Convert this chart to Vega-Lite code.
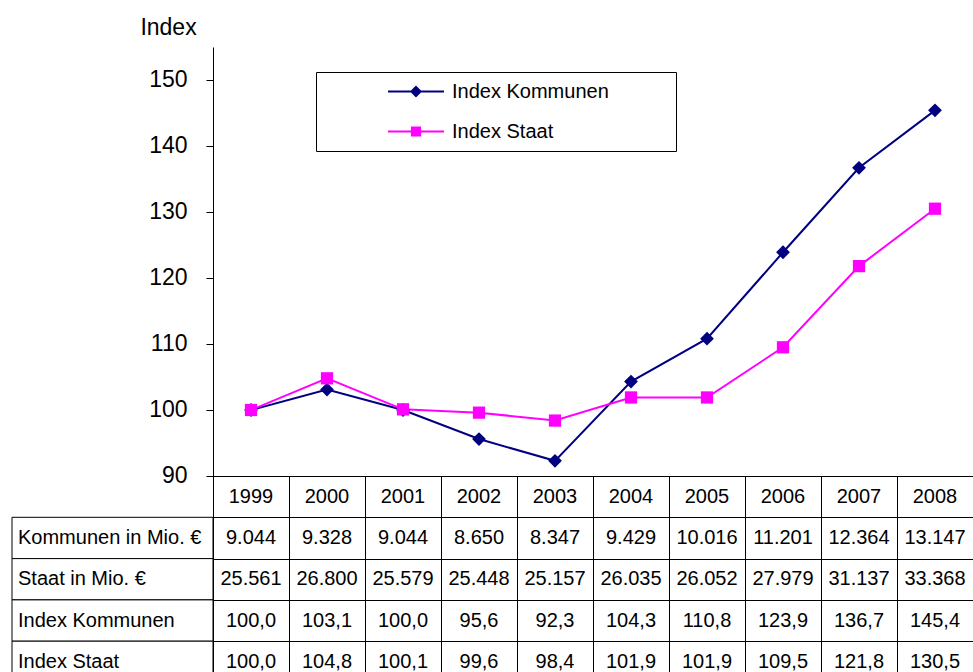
{
  "$schema": "https://vega.github.io/schema/vega-lite/v6.json",
  "width": 760,
  "height": 625,
  "autosize": {"type": "none"},
  "padding": {"left": 213, "top": 47, "right": 0, "bottom": 0},
  "background": "white",
  "config": {
    "font": "Liberation Sans",
    "view": {"stroke": null},
    "locale": {"number": {"decimal": ",", "thousands": ".", "grouping": [3], "currency": ["", " €"]}}
  },
  "data": {"values": [
    {"jahr": 1999, "zeile": "Kommunen in Mio. €", "wert": 9044},
    {"jahr": 1999, "zeile": "Staat in Mio. €", "wert": 25561},
    {"jahr": 1999, "zeile": "Index Kommunen", "wert": 100.0},
    {"jahr": 1999, "zeile": "Index Staat", "wert": 100.0},
    {"jahr": 2000, "zeile": "Kommunen in Mio. €", "wert": 9328},
    {"jahr": 2000, "zeile": "Staat in Mio. €", "wert": 26800},
    {"jahr": 2000, "zeile": "Index Kommunen", "wert": 103.1},
    {"jahr": 2000, "zeile": "Index Staat", "wert": 104.8},
    {"jahr": 2001, "zeile": "Kommunen in Mio. €", "wert": 9044},
    {"jahr": 2001, "zeile": "Staat in Mio. €", "wert": 25579},
    {"jahr": 2001, "zeile": "Index Kommunen", "wert": 100.0},
    {"jahr": 2001, "zeile": "Index Staat", "wert": 100.1},
    {"jahr": 2002, "zeile": "Kommunen in Mio. €", "wert": 8650},
    {"jahr": 2002, "zeile": "Staat in Mio. €", "wert": 25448},
    {"jahr": 2002, "zeile": "Index Kommunen", "wert": 95.6},
    {"jahr": 2002, "zeile": "Index Staat", "wert": 99.6},
    {"jahr": 2003, "zeile": "Kommunen in Mio. €", "wert": 8347},
    {"jahr": 2003, "zeile": "Staat in Mio. €", "wert": 25157},
    {"jahr": 2003, "zeile": "Index Kommunen", "wert": 92.3},
    {"jahr": 2003, "zeile": "Index Staat", "wert": 98.4},
    {"jahr": 2004, "zeile": "Kommunen in Mio. €", "wert": 9429},
    {"jahr": 2004, "zeile": "Staat in Mio. €", "wert": 26035},
    {"jahr": 2004, "zeile": "Index Kommunen", "wert": 104.3},
    {"jahr": 2004, "zeile": "Index Staat", "wert": 101.9},
    {"jahr": 2005, "zeile": "Kommunen in Mio. €", "wert": 10016},
    {"jahr": 2005, "zeile": "Staat in Mio. €", "wert": 26052},
    {"jahr": 2005, "zeile": "Index Kommunen", "wert": 110.8},
    {"jahr": 2005, "zeile": "Index Staat", "wert": 101.9},
    {"jahr": 2006, "zeile": "Kommunen in Mio. €", "wert": 11201},
    {"jahr": 2006, "zeile": "Staat in Mio. €", "wert": 27979},
    {"jahr": 2006, "zeile": "Index Kommunen", "wert": 123.9},
    {"jahr": 2006, "zeile": "Index Staat", "wert": 109.5},
    {"jahr": 2007, "zeile": "Kommunen in Mio. €", "wert": 12364},
    {"jahr": 2007, "zeile": "Staat in Mio. €", "wert": 31137},
    {"jahr": 2007, "zeile": "Index Kommunen", "wert": 136.7},
    {"jahr": 2007, "zeile": "Index Staat", "wert": 121.8},
    {"jahr": 2008, "zeile": "Kommunen in Mio. €", "wert": 13147},
    {"jahr": 2008, "zeile": "Staat in Mio. €", "wert": 33368},
    {"jahr": 2008, "zeile": "Index Kommunen", "wert": 145.4},
    {"jahr": 2008, "zeile": "Index Staat", "wert": 130.5}
  ]},
  "resolve": {"scale": {"y": "independent"}},
  "layer": [
    {
      "layer": [
        {
          "mark": {"type": "rect", "fill": "white", "stroke": null},
          "encoding": {
            "x": {"datum": 1998.5, "type": "quantitative",
              "scale": {"domain": [1998.5, 2008.5], "nice": false, "zero": false},
              "axis": {"values": [1998.5, 1999.5, 2000.5, 2001.5, 2002.5, 2003.5, 2004.5, 2005.5, 2006.5, 2007.5, 2008.5],
                "grid": true, "gridColor": "black", "gridOpacity": 1, "gridWidth": 1,
                "labels": false, "ticks": false, "domain": false, "title": null, "zindex": 0}},
            "x2": {"datum": 2008.5},
            "y": {"datum": 155, "type": "quantitative",
              "scale": {"domain": [60.303, 155], "nice": false, "zero": false}},
            "y2": {"datum": 90}
          }
        },
        {
          "transform": [{"filter": "indexof(datum.zeile, 'Index') === 0"}],
          "mark": {"type": "line", "strokeWidth": 2},
          "encoding": {
            "x": {"field": "jahr", "type": "quantitative",
              "scale": {"domain": [1998.5, 2008.5], "nice": false, "zero": false}},
            "y": {"field": "wert", "type": "quantitative",
              "scale": {"domain": [60.303, 155], "nice": false, "zero": false},
              "axis": {"values": [90, 100, 110, 120, 130, 140, 150], "grid": false,
                "domainColor": "black", "tickColor": "black", "tickSize": 7,
                "labelFontSize": 23, "labelColor": "black", "labelPadding": 19,
                "title": "Index", "titleAngle": 0, "titleAlign": "center", "titleBaseline": "alphabetic",
                "titleX": -45, "titleY": -13, "titleFontSize": 23, "titleFontWeight": "normal", "titleColor": "black",
                "zindex": 1}},
            "color": {"field": "zeile", "type": "nominal",
              "scale": {"domain": ["Index Kommunen", "Index Staat"], "range": ["#000080", "#FF00FF"]},
              "legend": {
                "orient": "none", "legendX": 103, "legendY": 25, "title": null, "direction": "vertical",
                "strokeColor": "black", "fillColor": "white", "padding": 0,
                "labelFontSize": 20, "labelColor": "black", "labelOffset": 16.5, "labelLimit": 400,
                "symbolSize": 1369, "symbolOffset": 80.5, "symbolStrokeWidth": 2, "rowPadding": 1,
                "labelExpr": "datum.label + '\u00a0\u00a0\u00a0\u00a0\u00a0\u00a0\u00a0\u00a0\u00a0\u00a0\u00a0\u00a0\u200b'",
                "encode": {"symbols": {"update": {
                  "shape": {"signal": "datum.value === 'Index Kommunen' ? 'M-1.514,0H1.514M0,-0.25L0.25,0L0,0.25L-0.25,0ZM0,0.784L0,0.784' : 'M-1.514,0H1.514M-0.22,-0.22H0.22V0.22H-0.22ZM0,0.784L0,0.784'"},
                  "fill": {"signal": "datum.value === 'Index Kommunen' ? '#000080' : '#FF00FF'"},
                  "stroke": {"signal": "datum.value === 'Index Kommunen' ? '#000080' : '#FF00FF'"},
                  "strokeWidth": {"value": 2},
                  "opacity": {"value": 1}
                }}}
              }}
          }
        },
        {
          "transform": [{"filter": "datum.zeile === 'Index Kommunen'"}],
          "mark": {"type": "point", "shape": "diamond", "filled": true, "size": 190, "color": "#000080", "opacity": 1},
          "encoding": {
            "x": {"field": "jahr", "type": "quantitative",
              "scale": {"domain": [1998.5, 2008.5], "nice": false, "zero": false}},
            "y": {"field": "wert", "type": "quantitative",
              "scale": {"domain": [60.303, 155], "nice": false, "zero": false}}
          }
        },
        {
          "transform": [{"filter": "datum.zeile === 'Index Staat'"}],
          "mark": {"type": "point", "shape": "square", "filled": true, "size": 150, "color": "#FF00FF", "opacity": 1},
          "encoding": {
            "x": {"field": "jahr", "type": "quantitative",
              "scale": {"domain": [1998.5, 2008.5], "nice": false, "zero": false}},
            "y": {"field": "wert", "type": "quantitative",
              "scale": {"domain": [60.303, 155], "nice": false, "zero": false}}
          }
        }
      ]
    },
    {
      "layer": [
        {
          "transform": [{"filter": "datum.jahr === 1999"}],
          "mark": {"type": "rect", "fill": "white", "stroke": "black", "strokeWidth": 1},
          "encoding": {
            "x": {"datum": 1995.8553, "type": "quantitative",
              "scale": {"domain": [1998.5, 2008.5], "nice": false, "zero": false}},
            "x2": {"datum": 1998.5},
            "y": {"field": "zeile", "type": "nominal",
              "scale": {"type": "band", "domain": ["Jahr", "Kommunen in Mio. €", "Staat in Mio. €", "Index Kommunen", "Index Staat"],
                "range": [429, 635.5], "paddingInner": 0, "paddingOuter": 0},
              "axis": {"grid": true, "tickBand": "extent", "gridColor": "black", "gridOpacity": 1, "gridWidth": 1,
                "labels": false, "ticks": false, "domain": false, "title": null, "zindex": 1}}
          }
        },
        {
          "transform": [{"filter": "datum.jahr === 1999"}],
          "mark": {"type": "text", "align": "left", "baseline": "middle", "fontSize": 20, "color": "black"},
          "encoding": {
            "x": {"datum": 1995.934, "type": "quantitative",
              "scale": {"domain": [1998.5, 2008.5], "nice": false, "zero": false}},
            "y": {"field": "zeile", "type": "nominal", "bandPosition": 0.5},
            "text": {"field": "zeile", "type": "nominal"}
          }
        },
        {
          "transform": [{"filter": "datum.zeile === 'Index Staat'"}],
          "mark": {"type": "text", "align": "center", "baseline": "middle", "fontSize": 20, "color": "black"},
          "encoding": {
            "x": {"field": "jahr", "type": "quantitative",
              "scale": {"domain": [1998.5, 2008.5], "nice": false, "zero": false}},
            "y": {"datum": "Jahr", "type": "nominal", "bandPosition": 0.5},
            "text": {"field": "jahr", "type": "ordinal"}
          }
        },
        {
          "transform": [{"filter": "indexof(datum.zeile, 'Mio') >= 0"}],
          "mark": {"type": "text", "align": "center", "baseline": "middle", "fontSize": 20, "color": "black"},
          "encoding": {
            "x": {"field": "jahr", "type": "quantitative",
              "scale": {"domain": [1998.5, 2008.5], "nice": false, "zero": false}},
            "y": {"field": "zeile", "type": "nominal", "bandPosition": 0.5},
            "text": {"field": "wert", "type": "quantitative", "format": ",.0f"}
          }
        },
        {
          "transform": [{"filter": "indexof(datum.zeile, 'Index') === 0"}],
          "mark": {"type": "text", "align": "center", "baseline": "middle", "fontSize": 20, "color": "black"},
          "encoding": {
            "x": {"field": "jahr", "type": "quantitative",
              "scale": {"domain": [1998.5, 2008.5], "nice": false, "zero": false}},
            "y": {"field": "zeile", "type": "nominal", "bandPosition": 0.5},
            "text": {"field": "wert", "type": "quantitative", "format": ".1f"}
          }
        }
      ]
    }
  ]
}
